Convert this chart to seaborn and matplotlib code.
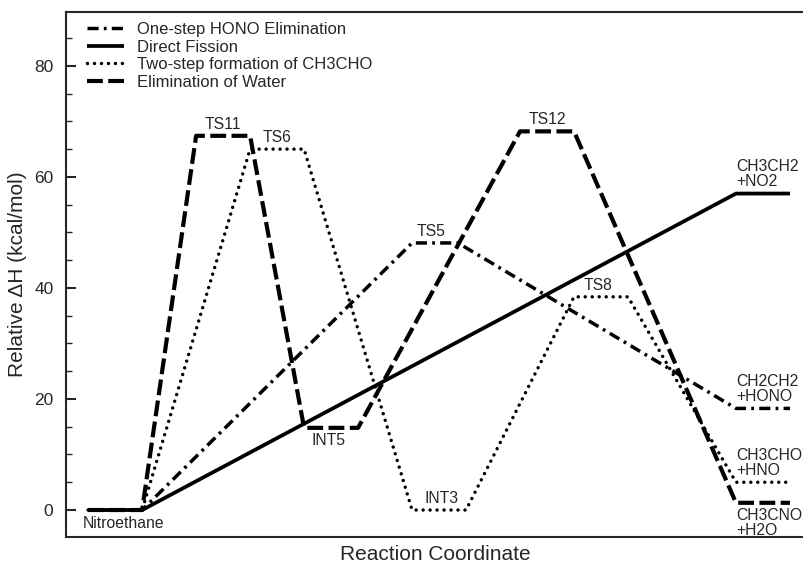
import pandas as pd
import matplotlib.pyplot as plt
import seaborn as sns
from matplotlib.ticker import MultipleLocator

# reaction coordinate positions and relative enthalpies (kcal/mol)
hono_x = [0, 1, 6, 6.85, 12, 13]
hono_y = [0, 0, 48.1, 48.1, 18.3, 18.3]
direct_x = [0, 1, 12, 13]
direct_y = [0, 0, 57.0, 57.0]
twostep_x = [0, 1, 3, 4, 6, 7, 9, 10, 12, 13]
twostep_y = [0, 0, 65.0, 65.0, 0, 0, 38.4, 38.4, 5.0, 5.0]
water_x = [0, 1, 2, 3, 4, 5, 8, 9, 12, 13]
water_y = [0, 0, 67.4, 67.4, 14.8, 14.8, 68.2, 68.2, 1.3, 1.3]

pathways = ["One-step HONO Elimination", "Direct Fission",
            "Two-step formation of CH3CHO", "Elimination of Water"]

# species labels: text, reaction coordinate, enthalpy
species = ["Nitroethane", "TS11", "TS6", "TS5", "INT5", "INT3", "TS12", "TS8",
           "CH3CH2\n+NO2", "CH2CH2\n+HONO", "CH3CHO\n+HNO", "CH3CNO\n+H2O"]
species_x = [0.65, 2.5, 3.5, 6.35, 4.45, 6.55, 8.5, 9.45, 12, 12, 12, 12]
species_y = [0, 67.4, 65.0, 48.1, 14.8, 0, 68.2, 38.4, 57.0, 18.3, 5.0, 1.3]

df = pd.concat([
    pd.DataFrame({"coord": hono_x, "dH": hono_y, "path": pathways[0]}),
    pd.DataFrame({"coord": direct_x, "dH": direct_y, "path": pathways[1]}),
    pd.DataFrame({"coord": twostep_x, "dH": twostep_y, "path": pathways[2]}),
    pd.DataFrame({"coord": water_x, "dH": water_y, "path": pathways[3]}),
])

sns.set_style("white")
plt.rcParams["font.family"] = ["Liberation Sans", "DejaVu Sans"]

fig = plt.figure(figsize=(8.04, 5.67), dpi=100)
ax = fig.add_axes([66 / 804, 30 / 567, 1 - 66 / 804, 525 / 567])

styles = {
    pathways[0]: dict(lw=2.5, dashes=(3.2, 1.5, 0.8, 1.5), cap="butt"),
    pathways[1]: dict(lw=2.7, dashes=None, cap="butt"),
    pathways[2]: dict(lw=2.5, dashes=(0.01, 2.0), cap="round"),
    pathways[3]: dict(lw=3.0, dashes=(3.8, 1.3), cap="butt"),
}

for p in pathways:
    sub = df[df["path"] == p]
    st = styles[p]
    sns.lineplot(x="coord", y="dH", data=sub, ax=ax, color="black",
                 lw=st["lw"], sort=False, estimator=None, label=p)
    line = ax.lines[-1]
    if st["dashes"] is not None:
        line.set_dashes(st["dashes"])
    line.set_dash_capstyle(st["cap"])
    line.set_solid_capstyle("butt")

for name, x, y in zip(species, species_x, species_y):
    if name in ("Nitroethane", "INT5") or name.startswith("CH3CNO"):
        ax.annotate(name, (x, y), xytext=(0, -4), textcoords="offset points",
                    ha="left" if "\n" in name else "center", va="top",
                    fontsize=11.3, linespacing=1.0)
    elif "\n" in name:
        ax.annotate(name, (x, y), xytext=(0, 3), textcoords="offset points",
                    ha="left", va="bottom", fontsize=11.3, linespacing=1.0)
    else:
        ax.annotate(name, (x, y), xytext=(0, 3), textcoords="offset points",
                    ha="center", va="bottom", fontsize=11.3)

ax.set_xlim(-0.41, 13.26)
ax.set_ylim(-4.86, 89.7)
ax.set_xticks([])
ax.yaxis.set_major_locator(MultipleLocator(20))
ax.yaxis.set_minor_locator(MultipleLocator(5))
ax.tick_params(axis="y", which="major", direction="in", length=7, width=1.5,
               labelsize=12.5, pad=9, left=True)
ax.tick_params(axis="y", which="minor", direction="in", length=4, width=1,
               left=True)
ax.spines["right"].set_visible(False)
for s in ("left", "top", "bottom"):
    ax.spines[s].set_linewidth(1.5)

ax.set_xlabel("Reaction Coordinate", fontsize=15, labelpad=6)
ax.set_ylabel("Relative ΔH (kcal/mol)", fontsize=15, labelpad=5)

ax.legend(loc="upper left", bbox_to_anchor=(0.015, 1.0), frameon=False,
          fontsize=12, handlelength=2.2, labelspacing=0.15, borderaxespad=0.2,
          handletextpad=0.8)

plt.savefig("out.png", dpi=100)
